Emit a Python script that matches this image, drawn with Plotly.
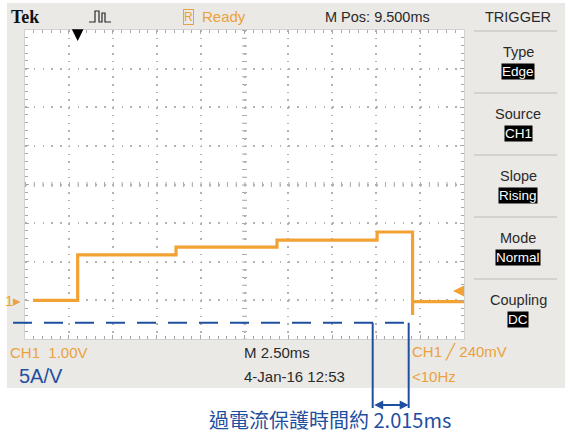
import plotly.graph_objects as go

# ---------------- data ----------------
time_ms = [-2.54, 0.0, 0.0, 5.60, 5.60, 11.35, 11.35, 17.05, 17.05, 19.07, 19.07, 19.07, 22.0]
volts = [0.0, 0.0, 1.18, 1.18, 1.38, 1.38, 1.56, 1.56, 1.77, 1.77, -0.38, -0.03, -0.03]
x_range = [-3.0, 22.0]      # 2.50 ms/div, M Pos 9.500 ms
y_range = [-1.0, 7.0]       # 1.00 V/div
ms_per_div = 2.5
v_per_div = 1.0
trigger_time_ms = 0.0
trigger_level_v = 0.24
ref_level_v = -0.58          # blue dashed reference line
ref_end_ms = 19.07
marker_ms = [16.80, 18.85]   # blue brackets for the 2.015 ms protection time

header_texts = ["Tek", "Ready", "M Pos: 9.500ms", "TRIGGER"]
panel_labels = ["Type", "Source", "Slope", "Mode", "Coupling"]
panel_values = ["Edge", "CH1", "Rising", "Normal", "DC"]
bottom_row1 = ["CH1  1.00V", "M 2.50ms", "CH1 \u2571 240mV"]
bottom_row2 = ["5A/V", "4-Jan-16 12:53", "<10Hz"]
caption = "過電流保護時間約 2.015ms"

# ---------------- styling ----------------
W, H = 565, 434
L, R, T, B = 25, 464, 30, 339
ORANGE = "#F2A234"
ORANGE_T = "#E9A23D"
BLUE = "#1F4FA0"
DARK = "#2A2A2A"
GRAY_BG = "#EBE9E6"
GRID = "#B2B2B2"
FONT = "Liberation Sans, Arial, sans-serif"
CJK = "Noto Sans CJK TC, Noto Sans CJK SC, sans-serif"


def fx(px):
    return (px - L) / (R - L)


def fy(py):
    return (B - py) / (B - T)


def xd(t):
    return (t - x_range[0]) / (x_range[1] - x_range[0])


def yd(v):
    return (v - y_range[0]) / (y_range[1] - y_range[0])


fig = go.Figure()
fig.add_trace(go.Scatter(x=time_ms, y=volts, mode="lines",
                         line=dict(color=ORANGE, width=3.2), hoverinfo="skip"))

shapes = []
# scope screen background and white graticule area
shapes.append(dict(type="rect", xref="paper", yref="paper", x0=fx(7), x1=fx(566),
                   y0=fy(388), y1=fy(3), fillcolor=GRAY_BG, line=dict(width=0), layer="below"))
shapes.append(dict(type="rect", xref="paper", yref="paper", x0=0, x1=1, y0=0, y1=1,
                   fillcolor="white", line=dict(width=0), layer="below"))
# center crosshair tick marks
xc = (x_range[0] + x_range[1]) / 2
yc = (y_range[0] + y_range[1]) / 2
xdiv_px = (R - L) / 10.0
ydiv_px = (B - T) / 8.0
shapes.append(dict(type="line", xref="x", yref="paper", x0=xc, x1=xc, y0=1, y1=0,
                   line=dict(color="#A8A8A8", width=5, dash="1px,%.2fpx" % (ydiv_px / 5 - 1)),
                   layer="below"))
shapes.append(dict(type="line", xref="paper", yref="y", x0=0, x1=1, y0=yc, y1=yc,
                   line=dict(color="#A8A8A8", width=5, dash="1px,%.2fpx" % (xdiv_px / 5 - 1)),
                   layer="below"))
# trigger panel separators
for k in range(5):
    yy = 31 + 62 * k
    shapes.append(dict(type="line", xref="paper", yref="paper", x0=fx(474), x1=fx(557),
                       y0=fy(yy), y1=fy(yy), line=dict(color="#BDBBB8", width=1)))
# pulse icon in header
icon = "M {a},{b} L {c},{b} L {c},{t} L {d},{t} L {d},{b} L {e},{b} L {e},{t2} L {f},{t2} L {f},{b} L {g},{b}".format(
    a=fx(89), b=fy(22), c=fx(95), t=fy(11), d=fx(99), e=fx(102), t2=fy(13), f=fx(105), g=fx(111))
shapes.append(dict(type="path", xref="paper", yref="paper", path=icon,
                   line=dict(color=DARK, width=1.2)))
# blue dashed reference line
shapes.append(dict(type="line", xref="paper", yref="paper", x0=fx(13), x1=xd(ref_end_ms),
                   y0=yd(ref_level_v), y1=yd(ref_level_v),
                   line=dict(color=BLUE, width=2, dash="19px,12px")))
# blue vertical brackets
for m in marker_ms:
    shapes.append(dict(type="line", xref="paper", yref="paper", x0=xd(m), x1=xd(m),
                       y0=yd(ref_level_v), y1=fy(408), line=dict(color=BLUE, width=2)))

ann = []


def text(x, y, s, size=14, color=DARK, xanchor="left", font=FONT, **kw):
    ann.append(dict(x=x, y=y, xref="paper", yref="paper", text=s, showarrow=False,
                    xanchor=xanchor, yanchor="middle",
                    font=dict(family=font, size=size, color=color), **kw))


# header
text(fx(9), fy(17), "<b>Tek</b>", size=18, color="#111", font="Liberation Serif, serif")
text(fx(183), fy(17), "R", size=12, color=ORANGE_T, bordercolor=ORANGE_T, borderwidth=1, borderpad=0)
text(fx(200), fy(17), header_texts[1], size=15, color=ORANGE_T)
text(fx(323), fy(17), header_texts[2], size=14.5)
text(fx(518), fy(17), header_texts[3], size=14.5, xanchor="center")
# trigger panel
for k, (lab, val) in enumerate(zip(panel_labels, panel_values)):
    base = 31 + 62 * k
    text(fx(518), fy(base + 21), lab, size=14.5, xanchor="center")
    text(fx(518), fy(base + 40), val, size=13.5, color="white", xanchor="center",
         bgcolor="black", borderpad=0)
# bottom status rows
text(fx(8), fy(352), bottom_row1[0], size=15, color=ORANGE_T)
text(fx(242), fy(352), bottom_row1[1], size=15)
text(fx(410), fy(352), bottom_row1[2], size=15, color=ORANGE_T)
text(fx(17), fy(376), bottom_row2[0], size=20, color=BLUE)
text(fx(242), fy(376), bottom_row2[1], size=15)
text(fx(410), fy(376), bottom_row2[2], size=15, color=ORANGE_T)
# channel 1 ground marker
text(fx(23), yd(0.0), "1\u25b8", size=15, color=ORANGE_T, xanchor="right")
# caption
text(fx(330), fy(420), caption, size=20, color=BLUE, xanchor="center", font=CJK, borderpad=0)

# trigger position arrow (top)
ann.append(dict(x=trigger_time_ms, y=fy(41), xref="x", yref="paper", text="", showarrow=True,
                ax=0, ay=-11, arrowhead=2, arrowsize=1.3, arrowwidth=1.8, arrowcolor="black"))
# trigger level arrow (right)
ann.append(dict(x=fx(453), y=yd(trigger_level_v), xref="paper", yref="paper", text="",
                showarrow=True, ax=11, ay=0, arrowhead=2, arrowsize=1.1, arrowwidth=2,
                arrowcolor=ORANGE))
# double arrow for protection time
ann.append(dict(x=marker_ms[1], y=fy(405), xref="x", yref="paper", text="", showarrow=True,
                axref="x", ax=marker_ms[0], ayref="pixel", ay=0, arrowhead=2, startarrowhead=2,
                arrowside="end+start", arrowsize=1, startarrowsize=1, arrowwidth=1.8,
                arrowcolor=BLUE))

fig.update_layout(width=W, height=H, margin=dict(l=L, r=W - R, t=T, b=H - B, pad=0),
                  paper_bgcolor="white", plot_bgcolor="white", showlegend=False,
                  shapes=shapes, annotations=ann)
fig.update_xaxes(range=x_range, tick0=x_range[0], dtick=ms_per_div, showgrid=True,
                 gridcolor=GRID, gridwidth=1.5, griddash="1.5px,%.2fpx" % (ydiv_px / 5 - 1.5),
                 showticklabels=False, ticks="inside", ticklen=4, tickcolor="#A8A8A8",
                 minor=dict(dtick=ms_per_div / 5, ticks="inside", ticklen=3, tickcolor="#A8A8A8",
                            showgrid=False),
                 showline=True, linecolor="#D2D2D2", mirror="ticks", zeroline=False, fixedrange=True)
fig.update_yaxes(range=y_range, tick0=y_range[0], dtick=v_per_div, showgrid=True,
                 gridcolor=GRID, gridwidth=1.5, griddash="1.5px,%.2fpx" % (xdiv_px / 5 - 1.5),
                 showticklabels=False, ticks="inside", ticklen=4, tickcolor="#A8A8A8",
                 minor=dict(dtick=v_per_div / 5, ticks="inside", ticklen=3, tickcolor="#A8A8A8",
                            showgrid=False),
                 showline=True, linecolor="#D2D2D2", mirror="ticks", zeroline=False, fixedrange=True)

fig.write_html("out.html", config={"displayModeBar": False},
               post_script="document.body.style.margin='0';document.body.style.padding='0';")
